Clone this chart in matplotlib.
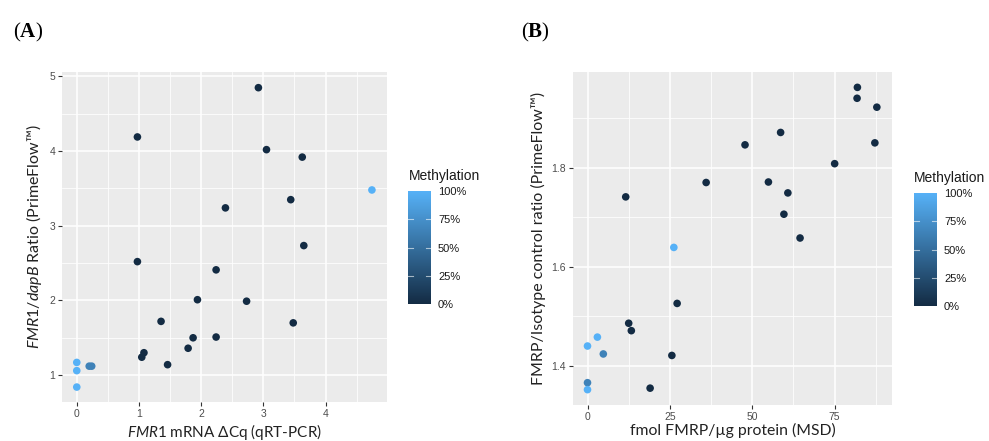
import matplotlib
matplotlib.use('Agg')
import matplotlib.pyplot as plt
from matplotlib.colors import LinearSegmentedColormap
from matplotlib.ticker import FuncFormatter

plt.rcParams['font.family'] = ['Lato', 'DejaVu Sans']
plt.rcParams['mathtext.fontset'] = 'custom'
plt.rcParams['mathtext.it'] = 'Lato:italic'
plt.rcParams['mathtext.rm'] = 'Lato'
plt.rcParams['mathtext.bf'] = 'Liberation Serif:bold'

# panel A: FMR1 mRNA dCq vs FMR1/dapB ratio
a_x = [2.92, 0.975, 3.05, 3.625, 4.745, 3.44, 2.39, 3.65, 0.975, 2.24, 1.94, 2.73,
       1.355, 3.48, 1.87, 2.24, 1.79, 1.08, 1.045, 1.46, 0.0, 0.0, 0.0, 0.2, 0.24]
a_y = [4.85, 4.19, 4.02, 3.92, 3.48, 3.35, 3.24, 2.735, 2.52, 2.41, 2.01, 1.99,
       1.72, 1.70, 1.50, 1.51, 1.36, 1.30, 1.24, 1.14, 1.17, 1.06, 0.84, 1.12, 1.12]
a_meth = [0, 0, 0, 0, 100, 0, 0, 0, 0, 0, 0, 0,
          0, 0, 0, 0, 0, 0, 0, 0, 100, 100, 100, 65, 65]

# panel B: FMRP by MSD vs FMRP/isotype ratio
b_x = [81.9, 81.8, 87.8, 58.6, 87.2, 47.8, 75.0, 36.0, 54.9, 60.8, 11.6, 59.6,
       64.5, 26.2, 27.2, 12.5, 13.3, 3.0, 0.0, 4.8, 25.6, 0.0, 0.0, 19.0]
b_y = [1.962, 1.940, 1.922, 1.871, 1.850, 1.846, 1.808, 1.770, 1.771, 1.749, 1.741, 1.706,
       1.658, 1.639, 1.526, 1.486, 1.471, 1.458, 1.440, 1.424, 1.421, 1.366, 1.352, 1.355]
b_meth = [0, 0, 0, 0, 0, 0, 0, 0, 0, 0, 0, 0,
          0, 100, 0, 0, 0, 100, 100, 65, 0, 65, 100, 0]

meth_ticks = [0, 25, 50, 75, 100]

cmap = LinearSegmentedColormap.from_list('gg', ['#132B43', '#56B1F7'])
W, H = 989, 441


def px_box(x0, y0, x1, y1):
    return [x0 / W, 1 - y1 / H, (x1 - x0) / W, (y1 - y0) / H]


def style(ax, xmaj, xmin, ymaj, ymin):
    ax.set_facecolor('#EBEBEB')
    for s in ax.spines.values():
        s.set_visible(False)
    ax.set_xticks(xmaj)
    ax.set_xticks(xmin, minor=True)
    ax.set_yticks(ymaj)
    ax.set_yticks(ymin, minor=True)
    ax.grid(True, which='major', color='white', lw=1.1)
    ax.grid(True, which='minor', color='white', lw=0.55)
    ax.set_axisbelow(True)
    ax.tick_params(which='major', length=3, width=0.8, color='#333333',
                   labelsize=7.5, labelcolor='#4D4D4D', pad=2)
    ax.tick_params(which='minor', length=0)
    for lab in ax.get_xticklabels() + ax.get_yticklabels():
        lab.set_family('Liberation Sans')


def colorbar(sc, box, title_xy):
    cax = fig.add_axes(px_box(*box))
    cb = fig.colorbar(sc, cax=cax, ticks=meth_ticks)
    cb.outline.set_visible(False)
    cb.ax.yaxis.set_major_formatter(FuncFormatter(lambda v, p: f'{v:.0f}%'))
    cb.ax.tick_params(length=0, labelsize=8, labelcolor='#1A1A1A', pad=5)
    for lab in cb.ax.get_yticklabels():
        lab.set_family('Liberation Sans')
    tr = cb.ax.get_yaxis_transform()
    for t in meth_ticks[1:-1]:
        cb.ax.plot([0, 0.2], [t, t], color='white', lw=0.8, alpha=0.6, transform=tr)
        cb.ax.plot([0.8, 1], [t, t], color='white', lw=0.8, alpha=0.6, transform=tr)
    fig.text(title_xy[0] / W, 1 - title_xy[1] / H, 'Methylation', fontsize=10,
             family='Liberation Sans', color='#1A1A1A', va='center', ha='left')


fig = plt.figure(figsize=(9.89, 4.41), dpi=100)

ax1 = fig.add_axes(px_box(62, 72, 387, 402))
sc1 = ax1.scatter(a_x, a_y, c=a_meth, cmap=cmap, vmin=0, vmax=100, s=30, lw=0, zorder=3)
ax1.set_xlim(-0.2375, 4.9875)
ax1.set_ylim(0.64, 5.06)
style(ax1, [0, 1, 2, 3, 4], [0.5, 1.5, 2.5, 3.5, 4.5], [1, 2, 3, 4, 5], [1.5, 2.5, 3.5, 4.5])
ax1.set_xlabel(r'$\mathit{FMR1}$ mRNA ΔCq (qRT-PCR)', fontsize=11, color='#222222', labelpad=2)
ax1.set_ylabel(r'$\mathit{FMR1/dapB}$ Ratio (PrimeFlow™)', fontsize=11.5, color='#222222', labelpad=4)
colorbar(sc1, (408, 191, 431, 304), (409, 176))

ax2 = fig.add_axes(px_box(573, 72, 892, 405))
sc2 = ax2.scatter(b_x, b_y, c=b_meth, cmap=cmap, vmin=0, vmax=100, s=30, lw=0, zorder=3)
ax2.set_xlim(-4.4, 92.4)
ax2.set_ylim(1.321, 1.993)
style(ax2, [0, 25, 50, 75], [12.5, 37.5, 62.5, 87.5], [1.4, 1.6, 1.8], [1.5, 1.7, 1.9])
ax2.yaxis.set_major_formatter(FuncFormatter(lambda v, p: f'{v:.1f}'))
ax2.set_xlabel('fmol FMRP/µg protein (MSD)', fontsize=11.3, color='#222222', labelpad=1)
ax2.set_ylabel('FMRP/Isotype control ratio (PrimeFlow™)', fontsize=11.5, color='#222222', labelpad=4)
colorbar(sc2, (914, 193, 937, 306), (914, 178))

fig.text(13 / W, 1 - 32 / H, r'($\mathbf{A}$)', fontsize=15, family='Liberation Serif', va='center')
fig.text(521 / W, 1 - 32 / H, r'($\mathbf{B}$)', fontsize=15, family='Liberation Serif', va='center')

fig.savefig('out.png', dpi=100)
